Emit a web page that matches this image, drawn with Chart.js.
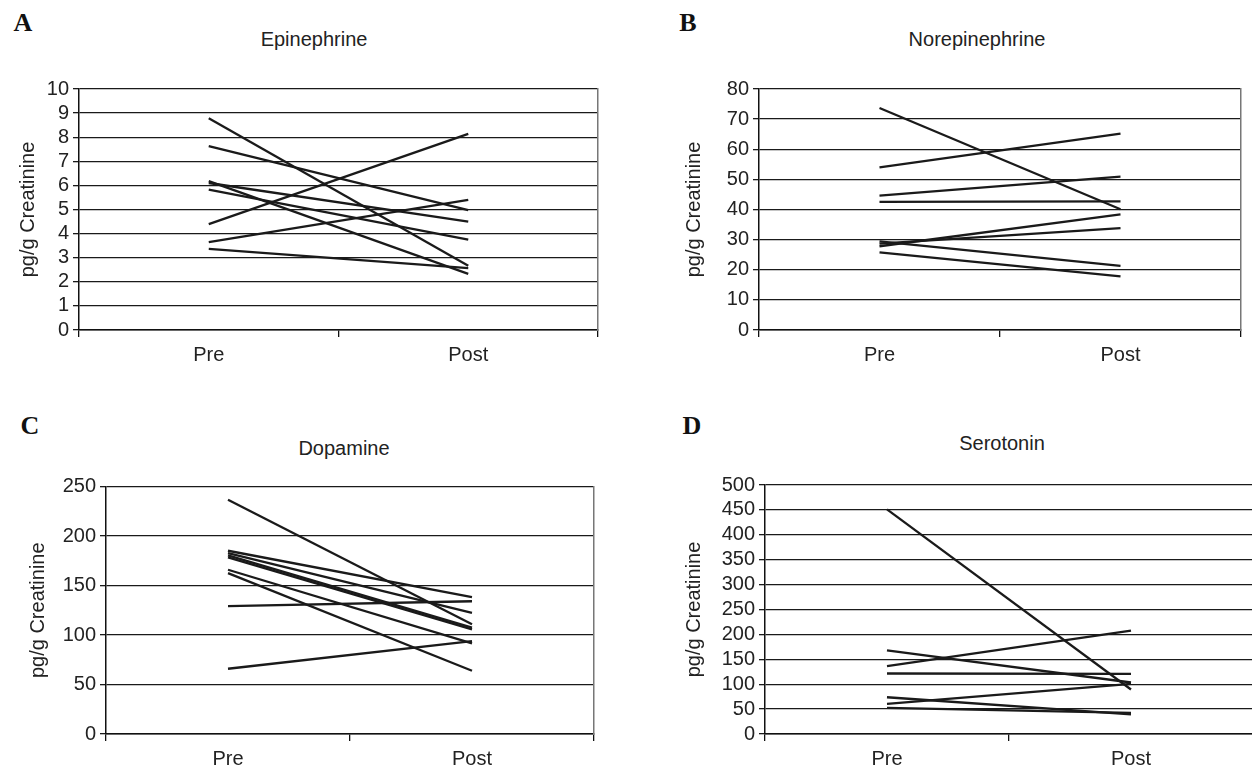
<!DOCTYPE html>
<html>
<head>
<meta charset="utf-8">
<script src="https://cdn.jsdelivr.net/npm/chart.js@4.4.1/dist/chart.umd.min.js"></script>
<style>
  html, body { margin:0; padding:0; background:#fff; width:1252px; height:774px; overflow:hidden; position:relative; }
  .cv { position:absolute; }
  .ttl { position:absolute; font-family:"Liberation Sans", Arial, sans-serif; font-size:20px; color:#222; transform:translate(-50%,-50%); white-space:nowrap; }
  .lt { position:absolute; font-family:"Liberation Serif", "Times New Roman", serif; font-weight:bold; font-size:26px; color:#111; transform:translate(-50%,-50%); }
</style>
</head>
<body>
<div class="lt" style="left:23px;top:23px">A</div>
<div class="lt" style="left:688px;top:23px">B</div>
<div class="lt" style="left:30px;top:426px">C</div>
<div class="lt" style="left:692px;top:426px">D</div>
<div class="ttl" style="left:314px;top:39px">Epinephrine</div>
<div class="ttl" style="left:977px;top:39px">Norepinephrine</div>
<div class="ttl" style="left:344px;top:448px">Dopamine</div>
<div class="ttl" style="left:1002px;top:443px">Serotonin</div>

<div class="cv" style="left:0px;top:0px;width:628px;height:387px"><canvas id="cA"></canvas></div>
<div class="cv" style="left:640px;top:0px;width:612px;height:387px"><canvas id="cB"></canvas></div>
<div class="cv" style="left:0px;top:395px;width:626px;height:379px"><canvas id="cC"></canvas></div>
<div class="cv" style="left:640px;top:395px;width:620px;height:379px"><canvas id="cD"></canvas></div>

<script>
// ---- data ----
const phases = ['Pre', 'Post'];
const yTitle = 'pg/g Creatinine';

const epiPre  = [8.79, 7.63, 6.18, 6.10, 5.82, 4.39, 3.65, 3.37];
const epiPost = [2.67, 4.97, 2.33, 4.50, 3.75, 8.14, 5.40, 2.57];
const epiTicks = [0, 1, 2, 3, 4, 5, 6, 7, 8, 9, 10];

const norPre  = [73.7, 54.0, 44.6, 42.5, 29.4, 28.7, 27.8, 25.8];
const norPost = [40.1, 65.2, 50.9, 42.7, 21.3, 33.8, 38.4, 17.8];
const norTicks = [0, 10, 20, 30, 40, 50, 60, 70, 80];

const dopPre  = [236.6, 185.1, 182.8, 180.4, 178.4, 165.9, 162.5, 129.1, 65.9];
const dopPost = [110.8, 138.2, 122.3, 107.4, 105.7, 91.6, 63.9, 134.1, 93.9];
const dopTicks = [0, 50, 100, 150, 200, 250];

const serPre  = [451, 167.8, 136.2, 121.5, 73.8, 60.4, 52.3];
const serPost = [89.3, 103.4, 207.4, 120.8, 39.6, 100.7, 42.3];
const serTicks = [0, 50, 100, 150, 200, 250, 300, 350, 400, 450, 500];

// ---- rendering ----
Chart.defaults.font.family = "'Liberation Sans', Arial, sans-serif";
Chart.defaults.color = '#222';

function makePanel(id, pre, post, ticks, lay) {
  const datasets = pre.map((v, i) => ({
    data: [v, post[i]],
    borderColor: '#1a1a1a',
    borderWidth: 2.3,
    pointRadius: 0,
    pointHoverRadius: 0,
    fill: false,
    tension: 0
  }));
  new Chart(document.getElementById(id), {
    type: 'line',
    data: { labels: phases, datasets },
    options: {
      responsive: true,
      maintainAspectRatio: false,
      animation: false,
      layout: { padding: lay.pad },
      plugins: { legend: { display: false }, tooltip: { enabled: false }, title: { display: false } },
      scales: {
        x: {
          type: 'category',
          offset: true,
          grid: { offset: true, drawOnChartArea: false, drawTicks: true, tickLength: 7, color: '#111', lineWidth: 1.3 },
          border: { display: true, color: '#111', width: 1.5 },
          ticks: { font: { size: 20 }, color: '#222', padding: 6, maxRotation: 0, autoSkip: false },
          afterFit: s => { s.height = 40; }
        },
        y: {
          type: 'linear',
          min: ticks[0],
          max: ticks[ticks.length - 1],
          afterBuildTicks: s => { s.ticks = ticks.map(v => ({ value: v })); },
          grid: { color: '#1a1a1a', lineWidth: 1.3, drawTicks: true, tickLength: 6 },
          border: { display: true, color: '#111', width: 1.5 },
          ticks: { font: { size: 20 }, color: '#222', padding: 4, autoSkip: false },
          title: { display: true, text: yTitle, font: { size: 20 }, color: '#222', padding: 0 },
          afterFit: s => { s.width = lay.yw; }
        },
        y2: {
          type: 'linear',
          position: 'right',
          display: true,
          ticks: { display: false },
          grid: { display: false, drawTicks: false },
          border: { display: true, color: '#777', width: 1.5 },
          afterFit: s => { s.width = 0; }
        }
      }
    }
  });
}

makePanel('cA', epiPre, epiPost, epiTicks, { pad: { left: 16, right: 30, top: 89, bottom: 17 }, yw: 63 });
makePanel('cB', norPre, norPost, norTicks, { pad: { left: 42, right: 11, top: 89, bottom: 17 }, yw: 77 });
makePanel('cC', dopPre, dopPost, dopTicks, { pad: { left: 26, right: 32, top: 91.5, bottom: 0 }, yw: 80 });
makePanel('cD', serPre, serPost, serTicks, { pad: { left: 42, right: 7, top: 90, bottom: 0 }, yw: 83 });
</script>
</body>
</html>
